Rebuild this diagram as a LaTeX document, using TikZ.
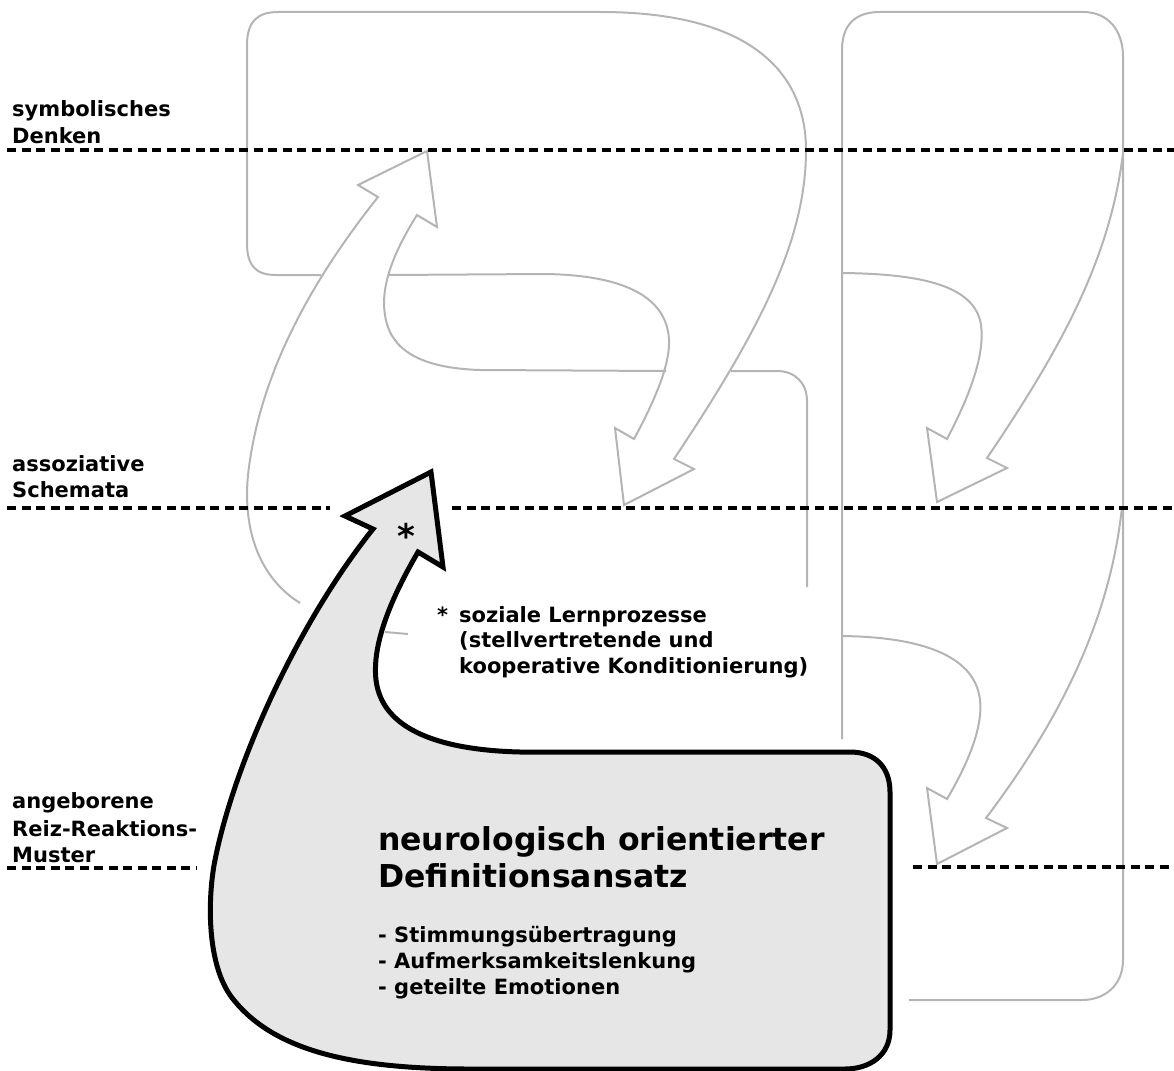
\documentclass[tikz,border=0pt]{standalone}
\usepackage{fontspec}
\setmainfont{DejaVu Sans}
\definecolor{ribbongray}{RGB}{180,180,180}
\definecolor{boxgray}{RGB}{230,230,230}
\begin{document}
\begin{tikzpicture}[x=1pt,y=-1pt,
  ribbon/.style={draw=ribbongray,line width=2pt},
  levelline/.style={draw=black,line width=4pt,dash pattern=on 9pt off 5.5pt},
  bigarrow/.style={draw=black,fill=boxgray,line width=5pt},
  lbl/.style={anchor=base west,inner sep=0pt,font=\fontsize{21}{26}\selectfont\bfseries},
  headline/.style={anchor=base west,inner sep=0pt,font=\fontsize{31.5}{38}\selectfont\bfseries}]
\useasboundingbox (0,0) rectangle (1174,1070);

% upper left block bending down into an arrow
\draw[ribbon] (321,275) -- (276,275) .. controls (255,275) and (247,265) .. (247,243)
  -- (247,45) .. controls (247,22) and (257,12) .. (278,12) -- (600,12)
  .. controls (760,12) and (806,80) .. (806,150)
  .. controls (806,240) and (760,330) .. (674,459)
  -- (694,469) -- (624,505) -- (615,428) -- (634,439)
  .. controls (655,400) and (670,365) .. (669,340)
  .. controls (667,295) and (620,275) .. (545,274) -- (389,275);

% rising arrow from the lower level
\draw[ribbon] (300,603) .. controls (255,575) and (240,520) .. (250,460)
  .. controls (265,360) and (320,270) .. (378,197)
  -- (358,185) -- (427,151) -- (437,227) -- (417,215)
  .. controls (395,250) and (380,285) .. (385,315)
  .. controls (390,350) and (420,368) .. (480,370) -- (666,371);
\draw[ribbon] (731,371) -- (777,371) .. controls (795,371) and (807,383) .. (807,401) -- (807,587);
\draw[ribbon] (385,632) -- (408,634);

% right column
\draw[ribbon] (842,739) -- (842,50) .. controls (842,25) and (855,12) .. (880,12) -- (1083,12)
  .. controls (1108,12) and (1123,30) .. (1123,57) -- (1123,960)
  .. controls (1123,985) and (1105,1000) .. (1082,1000) -- (909,1000);
\draw[ribbon] (1123,153) .. controls (1110,260) and (1060,350) .. (987,458)
  -- (1007,468) -- (937,502) -- (927,428) -- (947,439)
  .. controls (970,395) and (985,355) .. (981,325)
  .. controls (975,285) and (920,274) .. (843,273);
\draw[ribbon] (1122,507) .. controls (1110,620) and (1060,720) .. (986,818)
  -- (1007,828) -- (937,864) -- (927,788) -- (947,799)
  .. controls (970,760) and (983,725) .. (980,700)
  .. controls (975,655) and (920,637) .. (842,636);

% level separators
\draw[levelline] (7,150) -- (1174,150);
\draw[levelline] (7,508) -- (330,508);
\draw[levelline] (452,508) -- (1174,508);
\draw[levelline] (7,868) -- (197,868);
\draw[levelline] (913,867) -- (1174,867);

% neurological approach: box with rising arrow
\draw[bigarrow] (431,472) -- (443,567) -- (418,552)
  .. controls (390,600) and (372,645) .. (376,680)
  .. controls (382,730) and (440,750) .. (520,752) -- (850,752)
  .. controls (875,752) and (890,767) .. (890,792) -- (890,1030)
  .. controls (890,1055) and (870,1069) .. (845,1069) -- (470,1069)
  .. controls (350,1069) and (270,1050) .. (230,995)
  .. controls (206,960) and (208,895) .. (215,860)
  .. controls (235,760) and (300,620) .. (373,529)
  -- (345,516) -- cycle;

% level labels
\node[lbl] (sym1) at (12,117) {symbolisches};
\node[lbl] (sym2) at (12,143) {Denken};
\node[lbl] (ass1) at (12,471) {assoziative};
\node[lbl] (ass2) at (12,497) {Schemata};
\node[lbl] (ang1) at (12,808) {angeborene};
\node[lbl] (ang2) at (12,836) {Reiz-Reaktions-};
\node[lbl] (ang3) at (12,862) {Muster};

% footnote on social learning
\node[lbl,font=\fontsize{34}{40}\selectfont\bfseries] (arrowstar) at (397,548) {*};
\node[lbl] (notestar) at (437,622) {*};
\node[lbl] (soz1) at (459,622) {soziale Lernprozesse};
\node[lbl] (soz2) at (459,647) {(stellvertretende und};
\node[lbl] (soz3) at (459,673) {kooperative Konditionierung)};

% box text
\node[headline] (def1) at (378,850) {neurologisch orientierter};
\node[headline] (def2) at (378,887) {Definitionsansatz};
\node[lbl] (item1) at (378,942) {- Stimmungsübertragung};
\node[lbl] (item2) at (378,968) {- Aufmerksamkeitslenkung};
\node[lbl] (item3) at (378,994) {- geteilte Emotionen};
\end{tikzpicture}
\end{document}
